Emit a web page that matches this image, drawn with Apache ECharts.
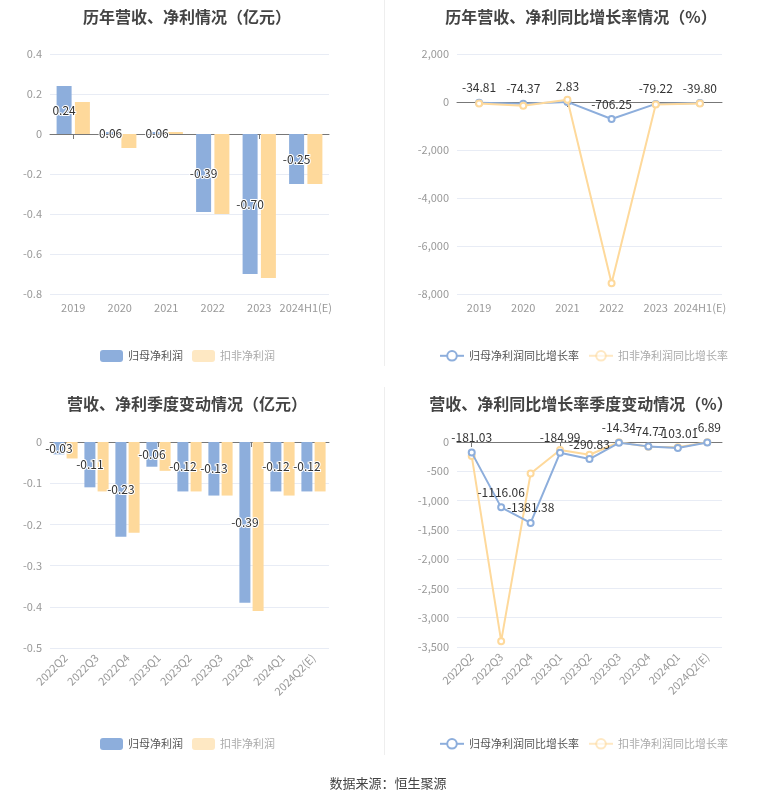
<!DOCTYPE html>
<html>
<head>
<meta charset="utf-8">
<script src="https://cdn.jsdelivr.net/npm/echarts@6/dist/echarts.min.js"></script>
<style>
  html, body { margin: 0; padding: 0; background: #fff; }
  #main { width: 765px; height: 801px; }
</style>
</head>
<body>
<div id="main"></div>
<script>
// 年度数据
var years = ['2019', '2020', '2021', '2022', '2023', '2024H1(E)'];
var yearNet = [0.24, 0.01, 0.01, -0.39, -0.70, -0.25];
var yearNetLabel = ['0.24', '0.06', '0.06', '-0.39', '-0.70', '-0.25'];
var yearDeduct = [0.16, -0.07, 0.01, -0.40, -0.72, -0.25];
var yearNetRate = [-34.81, -74.37, 2.83, -706.25, -79.22, -39.80];
var yearDeductRate = [-60, -160, 90, -7550, -100, -60];

// 季度数据
var quarters = ['2022Q2', '2022Q3', '2022Q4', '2023Q1', '2023Q2', '2023Q3', '2023Q4', '2024Q1', '2024Q2(E)'];
var qNet = [-0.03, -0.11, -0.23, -0.06, -0.12, -0.13, -0.39, -0.12, -0.12];
var qDeduct = [-0.04, -0.12, -0.22, -0.07, -0.12, -0.13, -0.41, -0.13, -0.12];
var qNetRate = [-181.03, -1116.06, -1381.38, -184.99, -290.83, -14.34, -74.77, -103.01, -6.89];
var qDeductRate = [-240, -3400, -537, -137, -217, -5, -80, -91, -5];

var BLUE = '#8daedc';
var YELLOW = '#fed99b';
var FONT = '"Noto Sans CJK SC", "Noto Sans", sans-serif';

var chartObj = echarts.init(document.getElementById('main'));

function thousands(v) {
    var s = String(Math.abs(v)).replace(/\B(?=(\d{3})+(?!\d))/g, ',');
    return (v < 0 ? '-' : '') + s;
}

function mkTitle(text, x, y) {
    return {
        text: text, left: x, top: y, textAlign: 'center',
        textStyle: { fontSize: 16, fontWeight: 'bold', color: '#444', fontFamily: FONT }
    };
}

function mkYAxis(grid, min, max, interval, fmt) {
    return {
        type: 'value', gridIndex: grid, min: min, max: max, interval: interval,
        axisLine: { show: false }, axisTick: { show: false },
        axisLabel: { color: '#999', fontSize: 11, fontFamily: FONT, formatter: fmt },
        splitLine: { lineStyle: { color: '#e8ecf5' } }
    };
}

// 标签轴（底部）和零线轴
function mkXAxes(grid, cats, rotate) {
    return [{
        type: 'category', gridIndex: grid, data: cats, position: 'bottom',
        axisLine: { show: false, onZero: false }, axisTick: { show: false },
        axisLabel: { color: '#999', fontSize: 11, fontFamily: FONT, rotate: rotate, interval: 0 }
    }, {
        type: 'category', gridIndex: grid, data: cats, position: 'bottom',
        axisLine: { show: true, onZero: true, lineStyle: { color: '#777' } },
        axisTick: { show: true, alignWithLabel: true, lineStyle: { color: '#777' } },
        axisLabel: { show: false }
    }];
}

var barLabel = {
    show: true, position: 'inside', color: '#333', fontSize: 12, fontFamily: FONT,
    textBorderColor: '#fff', textBorderWidth: 2
};

function mkLegend(names, kind, left, top) {
    return {
        left: left, top: top, itemGap: 9, itemWidth: kind == 'bar' ? 23 : 24, itemHeight: 12,
        icon: kind == 'bar' ? 'roundRect' : undefined,
        textStyle: { fontSize: 11, fontFamily: FONT },
        data: [
            { name: names[0], textStyle: { color: '#555' } },
            { name: names[1], textStyle: { color: '#aaa' }, itemStyle: { opacity: 0.6 }, lineStyle: { opacity: 0.6 } }
        ]
    };
}

var xAxes = [].concat(
    mkXAxes(0, years, 0), mkXAxes(1, years, 0),
    mkXAxes(2, quarters, 45), mkXAxes(3, quarters, 45)
);

var chartOpt = {
    animation: false,
    textStyle: { fontFamily: FONT },
    title: [
        mkTitle('历年营收、净利情况（亿元）', 182, 4),
        mkTitle('历年营收、净利同比增长率情况（%）', 576, 4),
        mkTitle('营收、净利季度变动情况（亿元）', 182, 391),
        mkTitle('营收、净利同比增长率季度变动情况（%）', 576, 391),
        {
            text: '数据来源：恒生聚源', left: 383, top: 772, textAlign: 'center',
            textStyle: { fontSize: 13, fontWeight: 'normal', color: '#444', fontFamily: FONT }
        }
    ],
    grid: [
        { left: 50, top: 54, width: 279, height: 240 },
        { left: 457, top: 54, width: 265, height: 240 },
        { left: 50, top: 442, width: 279, height: 206 },
        { left: 457, top: 442, width: 265, height: 205 }
    ],
    legend: [
        mkLegend(['归母净利润', '扣非净利润'], 'bar', 95, 345),
        mkLegend(['归母净利润同比增长率', '扣非净利润同比增长率'], 'line', 434, 345),
        mkLegend(['归母净利润', '扣非净利润'], 'bar', 95, 733),
        mkLegend(['归母净利润同比增长率', '扣非净利润同比增长率'], 'line', 434, 733)
    ],
    xAxis: xAxes,
    yAxis: [
        mkYAxis(0, -0.8, 0.4, 0.2),
        mkYAxis(1, -8000, 2000, 2000, thousands),
        mkYAxis(2, -0.5, 0, 0.1),
        mkYAxis(3, -3500, 0, 500, thousands)
    ],
    graphic: [
        { type: 'line', shape: { x1: 384.5, y1: 0, x2: 384.5, y2: 366 }, style: { stroke: '#eee', lineWidth: 1 } },
        { type: 'line', shape: { x1: 384.5, y1: 387, x2: 384.5, y2: 755 }, style: { stroke: '#eee', lineWidth: 1 } }
    ],
    series: [
        {
            name: '归母净利润', type: 'bar', xAxisIndex: 0, yAxisIndex: 0, data: yearNet,
            barWidth: 15, barGap: '22%', itemStyle: { color: BLUE },
            label: Object.assign({}, barLabel, { formatter: function (p) { return yearNetLabel[p.dataIndex]; } })
        },
        {
            name: '扣非净利润', type: 'bar', xAxisIndex: 0, yAxisIndex: 0, data: yearDeduct,
            barWidth: 15, barGap: '22%', itemStyle: { color: YELLOW }
        },
        {
            name: '归母净利润同比增长率', type: 'line', xAxisIndex: 2, yAxisIndex: 1, data: yearNetRate,
            symbol: 'emptyCircle', symbolSize: 6, z: 3,
            lineStyle: { color: BLUE, width: 2 }, itemStyle: { color: BLUE },
            label: { show: true, position: 'top', color: '#333', fontSize: 12, fontFamily: FONT,
                formatter: function (p) { return p.value.toFixed(2); } }
        },
        {
            name: '扣非净利润同比增长率', type: 'line', xAxisIndex: 2, yAxisIndex: 1, data: yearDeductRate,
            symbol: 'emptyCircle', symbolSize: 6, z: 4,
            lineStyle: { color: YELLOW, width: 2 }, itemStyle: { color: YELLOW }
        },
        {
            name: '归母净利润', type: 'bar', xAxisIndex: 4, yAxisIndex: 2, data: qNet,
            barWidth: 11, barGap: '20%', itemStyle: { color: BLUE },
            label: Object.assign({}, barLabel, { formatter: function (p) { return p.value.toFixed(2); } })
        },
        {
            name: '扣非净利润', type: 'bar', xAxisIndex: 4, yAxisIndex: 2, data: qDeduct,
            barWidth: 11, barGap: '20%', itemStyle: { color: YELLOW }
        },
        {
            name: '归母净利润同比增长率', type: 'line', xAxisIndex: 6, yAxisIndex: 3, data: qNetRate,
            symbol: 'emptyCircle', symbolSize: 6, z: 3,
            lineStyle: { color: BLUE, width: 2 }, itemStyle: { color: BLUE },
            label: { show: true, position: 'top', color: '#333', fontSize: 12, fontFamily: FONT,
                formatter: function (p) { return p.value.toFixed(2); } }
        },
        {
            name: '扣非净利润同比增长率', type: 'line', xAxisIndex: 6, yAxisIndex: 3, data: qDeductRate,
            symbol: 'emptyCircle', symbolSize: 6, z: 2,
            lineStyle: { color: YELLOW, width: 2 }, itemStyle: { color: YELLOW }
        }
    ]
};

chartObj.setOption(chartOpt);
</script>
</body>
</html>
